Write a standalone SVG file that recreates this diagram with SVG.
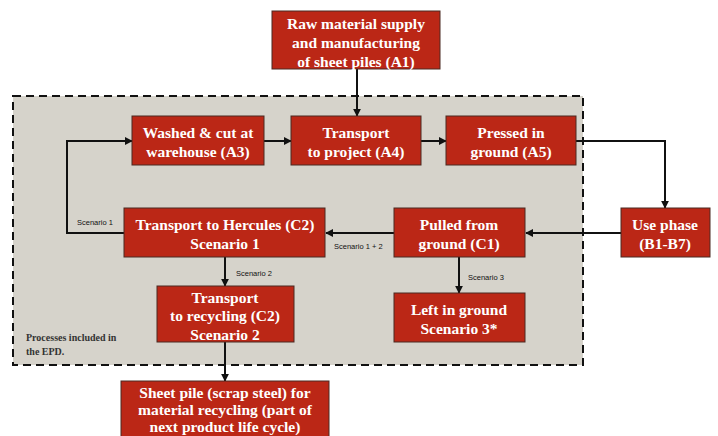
<svg xmlns="http://www.w3.org/2000/svg" width="718" height="436" viewBox="0 0 718 436">
<style>
.box{fill:#bb2716;stroke:#4a2a22;stroke-width:1}
.t{font-family:"Liberation Serif",serif;font-weight:bold;font-size:15.5px;fill:#fff;text-anchor:middle}
.lbl{font-family:"Liberation Sans",sans-serif;font-size:7.5px;fill:#111}
.note{font-family:"Liberation Serif",serif;font-weight:bold;font-size:10px;fill:#333}
.c{fill:none;stroke:#111;stroke-width:2;marker-end:url(#ah)}
</style>
<defs>
<marker id="ah" viewBox="0 0 10 10" refX="9" refY="5" markerWidth="4" markerHeight="4" orient="auto" markerUnits="strokeWidth">
<path d="M0,0 L10,5 L0,10 z" fill="#111"/>
</marker>
</defs>
<rect width="718" height="436" fill="#fff"/>
<g id="scope">
<rect x="13" y="96" width="570" height="269" fill="#d6d3cb" stroke="#111" stroke-width="2" stroke-dasharray="8,5"/>
<text class="note" x="26" y="341">Processes included  in</text>
<text class="note" x="26" y="355">the EPD.</text>
</g>
<g id="connectors">
<path class="c" d="M357,69 V116"/>
<path class="c" d="M264,141 H291"/>
<path class="c" d="M421,141 H446"/>
<path class="c" d="M576,141 H665 V208"/>
<path class="c" d="M621,233 H526"/>
<path class="c" d="M394,233 H326"/>
<path class="c" d="M124,233 H67 V141 H132"/>
<path class="c" d="M225,257 V286"/>
<path class="c" d="M459,257 V293"/>
<path class="c" d="M225,342 V381"/>
<text class="lbl" x="77" y="225">Scenario 1</text>
<text class="lbl" x="334" y="249">Scenario 1 + 2</text>
<text class="lbl" x="236" y="276">Scenario 2</text>
<text class="lbl" x="468" y="280">Scenario 3</text>
</g>
<g id="A1">
<rect class="box" x="272" y="11" width="168" height="58"/>
<text class="t" x="356" y="29">Raw material supply</text>
<text class="t" x="356" y="48">and manufacturing</text>
<text class="t" x="356" y="67">of sheet piles (A1)</text>
</g>
<g id="A3">
<rect class="box" x="132" y="116" width="132" height="49"/>
<text class="t" x="198" y="138">Washed &amp; cut at</text>
<text class="t" x="198" y="157">warehouse (A3)</text>
</g>
<g id="A4">
<rect class="box" x="291" y="116" width="130" height="49"/>
<text class="t" x="356" y="138">Transport</text>
<text class="t" x="356" y="157">to project (A4)</text>
</g>
<g id="A5">
<rect class="box" x="446" y="116" width="130" height="49"/>
<text class="t" x="511" y="138">Pressed in</text>
<text class="t" x="511" y="157">ground (A5)</text>
</g>
<g id="B">
<rect class="box" x="621" y="208" width="89" height="49"/>
<text class="t" x="665" y="230">Use phase</text>
<text class="t" x="665" y="249">(B1-B7)</text>
</g>
<g id="C1">
<rect class="box" x="394" y="208" width="131" height="49"/>
<text class="t" x="459" y="230">Pulled from</text>
<text class="t" x="459" y="249">ground (C1)</text>
</g>
<g id="C2-1">
<rect class="box" x="124" y="208" width="201" height="49"/>
<text class="t" x="225" y="230">Transport to Hercules (C2)</text>
<text class="t" x="225" y="249">Scenario 1</text>
</g>
<g id="C2-2">
<rect class="box" x="157" y="286" width="137" height="56"/>
<text class="t" x="225" y="303">Transport</text>
<text class="t" x="225" y="321">to recycling (C2)</text>
<text class="t" x="225" y="340">Scenario 2</text>
</g>
<g id="S3">
<rect class="box" x="394" y="293" width="131" height="49"/>
<text class="t" x="459" y="315">Left in ground</text>
<text class="t" x="459" y="334">Scenario 3*</text>
</g>
<g id="recycle">
<rect class="box" x="121" y="381" width="208" height="64"/>
<text class="t" x="225" y="398">Sheet pile (scrap steel) for</text>
<text class="t" x="225" y="415">material recycling (part of</text>
<text class="t" x="225" y="432">next product life cycle)</text>
</g>
</svg>
